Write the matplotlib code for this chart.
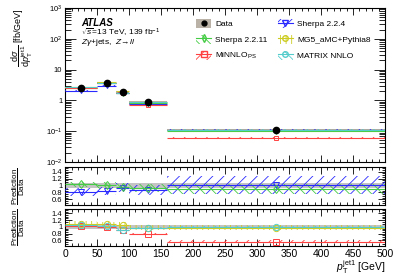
import numpy as np
import matplotlib
matplotlib.use('Agg')
import matplotlib.pyplot as plt
from matplotlib.patches import Patch
from matplotlib.lines import Line2D
from matplotlib.ticker import MultipleLocator, LogLocator, NullFormatter, FixedLocator

plt.rcParams['font.family'] = ['Liberation Sans', 'DejaVu Sans']
plt.rcParams['mathtext.fontset'] = 'custom'
plt.rcParams['mathtext.rm'] = 'Liberation Sans'
plt.rcParams['mathtext.it'] = 'Liberation Sans:italic'
plt.rcParams['hatch.linewidth'] = 0.6

# binning en pT jet1 [GeV]
edges = np.array([0, 50, 80, 100, 160, 500])
data = np.array([2.5, 3.6, 1.9, 0.90, 0.11])
data_err = np.array([0.06, 0.06, 0.06, 0.07, 0.07])   # relativo

# razones prediccion/datos
r_sh224 = np.array([0.82, 0.84, 0.93, 0.87, 1.02])
e_sh224 = np.array([0.12, 0.12, 0.13, 0.15, 0.25])
r_sh2211 = np.array([1.03, 1.00, 0.95, 0.93, 0.89])
e_sh2211 = np.array([0.08, 0.09, 0.10, 0.12, 0.14])
r_minnlo = np.array([1.04, 1.00, 0.92, 0.79, 0.56])
e_minnlo = np.array([0.03, 0.03, 0.04, 0.04, 0.04])
r_mg5 = np.array([1.10, 1.08, 1.06, 0.98, 0.98])
e_mg5 = np.array([0.07, 0.07, 0.08, 0.08, 0.08])
r_matrix = np.array([1.06, 1.03, 0.92, 0.97, 1.00])
e_matrix = np.array([0.04, 0.04, 0.04, 0.04, 0.04])

c_blue = '#2a2aff'
c_green = '#44cc44'
c_red = '#ff4040'
c_yel = '#cccc22'
c_cyan = '#55cccc'
c_dat = '#bab2a6'

left = edges[:-1]
width = np.diff(edges)
cent = np.array([25, 65, 90, 130, 330])

fig = plt.figure(figsize=(4.07, 2.76), dpi=100)
ax = fig.add_axes([0.160, 0.413, 0.786, 0.558])
ax1 = fig.add_axes([0.160, 0.257, 0.786, 0.138])
ax2 = fig.add_axes([0.160, 0.109, 0.786, 0.134])

def pred(a, val, err, color, hatch, marker, main=False):
    lo = val - err
    a.bar(left, 2 * err, bottom=lo, width=width, align='edge', facecolor='none',
          edgecolor=color, hatch=hatch, linewidth=0, zorder=3)
    a.hlines(val, left, edges[1:], color=color, lw=0.8, zorder=4)
    a.plot(cent, val, ls='none', marker=marker, mfc='none', mec=color,
           ms=3 if main else 4.5, mew=0.7, zorder=5)

# panel principal
ax.bar(left, 2 * data * data_err, bottom=data * (1 - data_err), width=width,
       align='edge', color=c_dat, lw=0, zorder=2)
pred(ax, data * r_sh224, data * e_sh224 * 0.3, c_blue, '///', 'v', True)
pred(ax, data * r_sh2211, data * e_sh2211 * 0.3, c_green, '\\\\\\', 'd', True)
pred(ax, data * r_minnlo, data * e_minnlo, c_red, '///', 's', True)
pred(ax, data * r_mg5, data * e_mg5 * 0.4, c_yel, '|||', 'o', True)
pred(ax, data * r_matrix, data * e_matrix, c_cyan, '\\\\\\', 'o', True)
ax.plot(cent, data, 'o', color='black', ms=4.5, zorder=6)

ax.set_yscale('log')
ax.set_ylim(1e-2, 1e3)
ax.set_xlim(0, 500)
ax.yaxis.set_major_locator(FixedLocator([1e-2, 1e-1, 1, 10, 1e2, 1e3]))
ax.set_yticklabels([r'$10^{-2}$', r'$10^{-1}$', '1', '10', r'$10^{2}$', r'$10^{3}$'])
ax.yaxis.set_minor_locator(LogLocator(base=10, subs=np.arange(2, 10)))
ax.yaxis.set_minor_formatter(NullFormatter())
ax.set_xticklabels([])
ax.set_ylabel(r'$\dfrac{\mathrm{d}\sigma}{\mathrm{d}p_\mathrm{T}^\mathrm{jet1}}$ [fb/GeV]',
              fontsize=6.5, loc='top')

ax.text(0.05, 0.905, 'ATLAS', transform=ax.transAxes, fontsize=7,
        fontweight='bold', fontstyle='italic', va='center')
ax.text(0.05, 0.838, r'$\sqrt{s}$=13 TeV, 139 fb$^{-1}$', transform=ax.transAxes,
        fontsize=6, va='center')
ax.text(0.05, 0.773, r'$Z\gamma$+jets,  $Z\!\rightarrow\! ll$', transform=ax.transAxes,
        fontsize=6, va='center')

# leyenda
def h(color, hatch, marker):
    return (Patch(facecolor='none', edgecolor=color, hatch=hatch, lw=0),
            Line2D([], [], color=color, marker=marker, mfc='none', ms=4, lw=0.8))

handles = [(Patch(facecolor=c_dat, lw=0), Line2D([], [], color='k', marker='o', ls='none', ms=3.5)),
           h(c_green, '\\\\\\', 'd'),
           h(c_red, '///', 's'),
           h(c_blue, '///', 'v'),
           h(c_yel, '|||', 'o'),
           h(c_cyan, '\\\\\\', 'o')]
labels = ['Data', 'Sherpa 2.2.11', r'MiNNLO$_\mathrm{PS}$',
          'Sherpa 2.2.4', 'MG5_aMC+Pythia8', 'MATRIX NNLO']
ax.legend(handles, labels, ncol=2, loc='upper left', bbox_to_anchor=(0.41, 0.93),
          frameon=False, fontsize=6, handlelength=1.8, handleheight=1.4,
          labelspacing=0.75, columnspacing=1.2, handletextpad=0.5, borderpad=0,
          borderaxespad=0)

# paneles de razon
for a, items in [(ax1, [(r_sh224, e_sh224, c_blue, '///', 'v'),
                        (r_sh2211, e_sh2211, c_green, '\\\\\\', 'd')]),
                 (ax2, [(r_minnlo, e_minnlo, c_red, '///', 's'),
                        (r_mg5, e_mg5, c_yel, '|||', 'o'),
                        (r_matrix, e_matrix, c_cyan, '\\\\\\', 'o')])]:
    a.bar(left, 2 * data_err, bottom=1 - data_err, width=width, align='edge',
          color='#c4c4c4', lw=0, zorder=2)
    for val, err, col, hat, mk in items:
        pred(a, val, err, col, hat, mk)
    a.set_xlim(0, 500)
    a.set_ylim(0.44, 1.53)
    a.yaxis.set_major_locator(FixedLocator([0.6, 0.8, 1.0, 1.2, 1.4]))
    a.set_yticklabels(['0.6', '0.8', '1', '1.2', '1.4'])
    a.yaxis.set_minor_locator(MultipleLocator(0.05))
    a.set_ylabel(r'$\dfrac{\mathrm{Prediction}}{\mathrm{Data}}$', fontsize=5.8)

ax1.set_xticklabels([])
ax2.set_xlabel(r'$p_\mathrm{T}^\mathrm{jet1}$ [GeV]', fontsize=7.5)

for a in (ax, ax1, ax2):
    a.xaxis.set_major_locator(MultipleLocator(50))
    a.xaxis.set_minor_locator(MultipleLocator(10))
    a.tick_params(which='both', direction='in', top=True, right=True, width=0.6)
    a.tick_params(which='major', length=5)
    a.tick_params(which='minor', length=2.5)
    a.tick_params(axis='y', labelsize=5.5, pad=2)
    for s in a.spines.values():
        s.set_linewidth(0.8)
ax.tick_params(axis='y', which='major', length=8)
ax.tick_params(axis='y', which='minor', length=4)
ax2.tick_params(axis='x', labelsize=7.5, pad=2)

for a in (ax1, ax2):
    a.yaxis.set_label_coords(-0.118, 0.5)
ax.yaxis.set_label_coords(-0.095, 1.0)
ax2.xaxis.set_label_coords(1.0, -0.32)
ax2.xaxis.label.set_ha('right')

fig.savefig('out.png', dpi=100)
